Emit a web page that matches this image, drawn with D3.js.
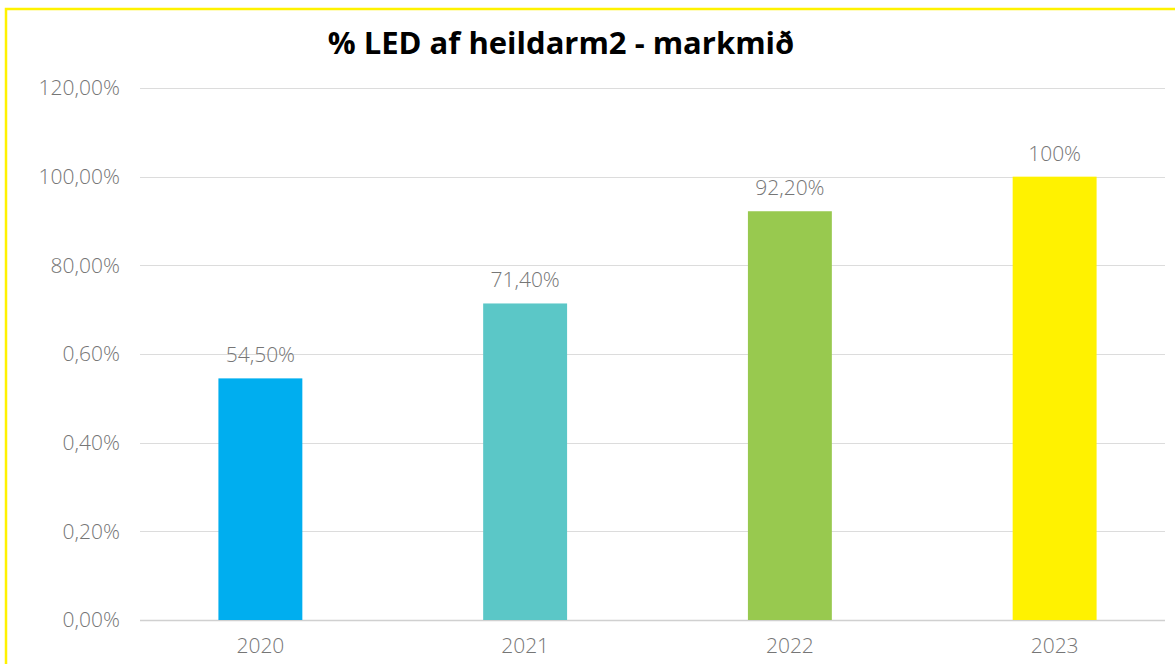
<!DOCTYPE html>
<html>
<head>
<meta charset="utf-8">
<title>% LED af heildarm2 - markmið</title>
<script src="https://d3js.org/d3.v7.min.js"></script>
<style>
  body { margin: 0; background: #fff; }
  text { font-family: "Open Sans", sans-serif; }
</style>
</head>
<body>
<script>
// data
var years = ["2020", "2021", "2022", "2023"];
var ledShare = [0.545, 0.714, 0.922, 1.00];
var valueLabels = ["54,50%", "71,40%", "92,20%", "100%"];
var barColors = ["#00aeef", "#5bc7c7", "#98c94f", "#fff200"];
var yTicks = [0, 0.2, 0.4, 0.6, 0.8, 1.0, 1.2];
var yTickLabels = ["0,00%", "0,20%", "0,40%", "0,60%", "80,00%", "100,00%", "120,00%"];

var w = 1175, h = 664;
var svg = d3.select("body").append("svg")
  .attr("width", w)
  .attr("height", h);

// yellow frame, runs off the right and bottom edge
svg.append("rect")
  .attr("x", 6).attr("y", 9)
  .attr("width", w + 20).attr("height", h + 20)
  .attr("fill", "none")
  .attr("stroke", "#fff200")
  .attr("stroke-width", 2.5);

svg.append("text")
  .attr("x", 561).attr("y", 54)
  .attr("text-anchor", "middle")
  .attr("font-size", 31)
  .attr("font-weight", 700)
  .attr("fill", "#000")
  .text("% LED af heildarm2 - markmið");

var gridLeft = 140, gridRight = 1165;
var labelColor = "#767676";

var x = d3.scaleBand()
  .domain(years)
  .range([128, 1187])
  .paddingInner(0.683)
  .paddingOuter(0.683 / 2);

var y = d3.scaleLinear()
  .domain([0, 1.2])
  .range([620, 88]);

// gridlines
svg.append("g").selectAll("line")
  .data(yTicks)
  .enter().append("line")
  .attr("x1", gridLeft).attr("x2", gridRight)
  .attr("y1", function(d){ return Math.round(y(d)) + 0.5; })
  .attr("y2", function(d){ return Math.round(y(d)) + 0.5; })
  .attr("stroke", function(d){ return d === 0 ? "#d0d0d0" : "#dcdcdc"; })
  .attr("stroke-width", function(d){ return d === 0 ? 1.5 : 1; });

// y axis labels (the source has odd formats, kept as is)
var yAxis = d3.axisLeft(y)
  .tickValues(yTicks)
  .tickFormat(function(d, i){ return yTickLabels[i]; })
  .tickSize(0)
  .tickPadding(0);

var gy = svg.append("g")
  .attr("transform", "translate(120,0)")
  .call(yAxis);
gy.select(".domain").remove();
gy.selectAll("text")
  .attr("font-family", "Open Sans, sans-serif")
  .attr("font-size", 21)
  .attr("font-weight", 300)
  .attr("fill", labelColor);

// x axis labels
var xAxis = d3.axisBottom(x).tickSize(0).tickPadding(0);
var gx = svg.append("g")
  .attr("transform", "translate(0,638)")
  .call(xAxis);
gx.select(".domain").remove();
gx.selectAll("text")
  .attr("font-family", "Open Sans, sans-serif")
  .attr("font-size", 21)
  .attr("font-weight", 300)
  .attr("fill", labelColor);

// bars
svg.append("g").selectAll("rect")
  .data(ledShare)
  .enter().append("rect")
  .attr("x", function(d, i){ return x(years[i]); })
  .attr("y", function(d){ return y(d); })
  .attr("width", x.bandwidth())
  .attr("height", function(d){ return y(0) - y(d); })
  .attr("fill", function(d, i){ return barColors[i]; });

// value labels
svg.append("g").selectAll("text")
  .data(ledShare)
  .enter().append("text")
  .attr("x", function(d, i){ return x(years[i]) + x.bandwidth() / 2; })
  .attr("y", function(d){ return y(d) - 16; })
  .attr("text-anchor", "middle")
  .attr("font-size", 21)
  .attr("font-weight", 300)
  .attr("fill", labelColor)
  .text(function(d, i){ return valueLabels[i]; });
</script>
</body>
</html>
